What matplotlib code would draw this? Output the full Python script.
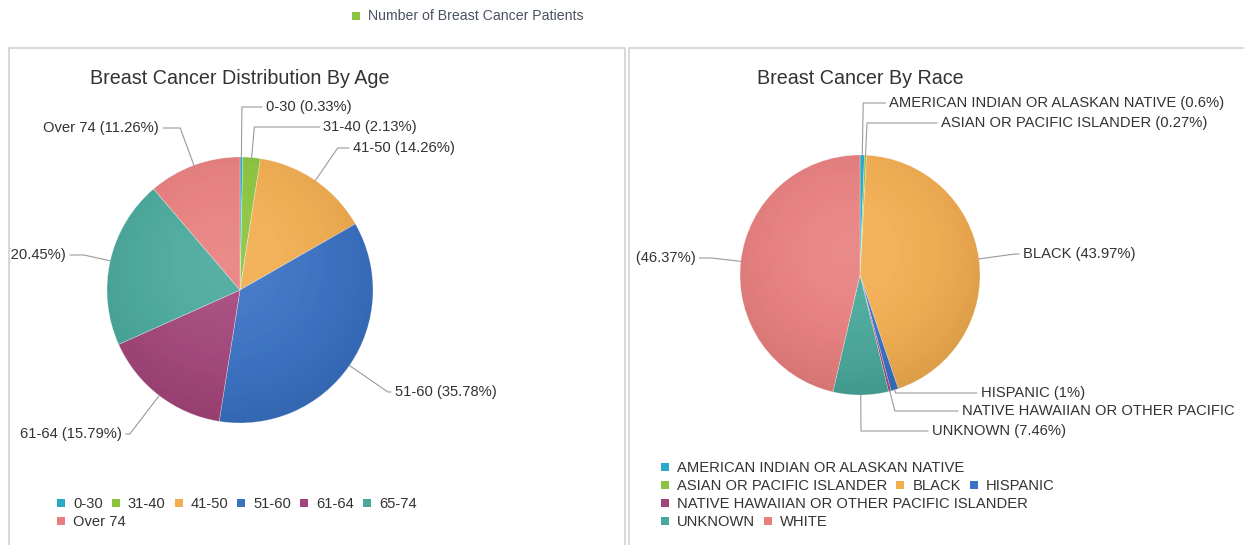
import numpy as np
import matplotlib
matplotlib.use('Agg')
import matplotlib.pyplot as plt
from matplotlib.patches import Rectangle, Circle
from matplotlib.transforms import Bbox, IdentityTransform, TransformedBbox

# ---------------- data ----------------
series_name = 'Number of Breast Cancer Patients'
age_title = 'Breast Cancer Distribution By Age'
race_title = 'Breast Cancer By Race'
age_labels = ['0-30', '31-40', '41-50', '51-60', '61-64', '65-74', 'Over 74']
age_pct = [0.33, 2.13, 14.26, 35.78, 15.79, 20.45, 11.26]
race_labels = ['AMERICAN INDIAN OR ALASKAN NATIVE', 'ASIAN OR PACIFIC ISLANDER', 'BLACK',
               'HISPANIC', 'NATIVE HAWAIIAN OR OTHER PACIFIC ISLANDER', 'UNKNOWN', 'WHITE']
race_pct = [0.6, 0.27, 43.97, 1, 0.33, 7.46, 46.37]
palette = ['#2aa8c8', '#8cc43f', '#f2ad50', '#3a71c3', '#a3457a', '#49a89b', '#e77f7e']

# ---------------- layout (pixels) ----------------
W, H = 1244, 545
FONT = ['Liberation Sans', 'DejaVu Sans']
TXT = '#333333'
LINEC = '#9a9a9a'
plt.rcParams['font.family'] = FONT

fig = plt.figure(figsize=(W / 100, H / 100), dpi=100)
fig.patch.set_facecolor('white')
ax = fig.add_axes([0, 0, 1, 1])

age_c, age_r = (240, 290), 133
race_c, race_r = (860, 275), 120


def draw_pie(vals, center, r):
    wedges, _ = ax.pie(vals, colors=palette, center=center, radius=r,
                       startangle=-90, counterclock=True,
                       wedgeprops=dict(edgecolor=(1, 1, 1, 0.5), linewidth=0.4))
    # subtle 3D-like shading
    n = 300
    g = np.linspace(-1, 1, n)
    X, Y = np.meshgrid(g, g)
    d = np.sqrt((X + 0.1) ** 2 + (Y + 0.2) ** 2)
    d = np.clip(d / 1.2, 0, 1)
    shade = np.zeros((n, n, 4))
    shade[..., 3] = 0.09 * d ** 3
    light = np.ones((n, n, 4))
    light[..., 3] = 0.10 * (1 - d) ** 1.2
    circ = Circle(center, r, transform=ax.transData)
    for img in (light, shade):
        im = ax.imshow(img, extent=(center[0] - r, center[0] + r, center[1] + r, center[1] - r),
                       zorder=3, interpolation='bilinear')
        im.set_clip_path(circ)
    return wedges


draw_pie(age_pct, age_c, age_r)
draw_pie(race_pct, race_c, race_r)

ax.set_xlim(0, W)
ax.set_ylim(H, 0)
ax.set_aspect('auto')
ax.axis('off')

# clip regions (display pixels, origin bottom-left)
clip_left = TransformedBbox(Bbox.from_extents(10, 0, 624, H - 49), IdentityTransform())
clip_right = TransformedBbox(Bbox.from_extents(632, 0, 1237, H - 49), IdentityTransform())

# panel borders
bc = '#d6d6d6'
ax.plot([9, 9, 625, 625], [H, 48, 48, H], color=bc, lw=1.3, solid_capstyle='butt', zorder=1)
ax.plot([629, 629, W + 5], [H, 48, 48], color=bc, lw=1.3, solid_capstyle='butt', zorder=1)

# top series legend
ax.add_patch(Rectangle((352, 12), 8, 8, color='#8cc43f', lw=0))
ax.text(368, 16.5, series_name, fontsize=10.2, color='#4a5262', va='center', ha='left')

# titles
ax.text(90, 78, age_title, fontsize=14.2, color=TXT, va='center', ha='left')
ax.text(757, 78, race_title, fontsize=14.2, color=TXT, va='center', ha='left')


def fmt(v):
    return f'{v:g}%'


def draw_labels(labels, vals, center, r, ys, hlens, clip):
    cx, cy = center
    cum = np.cumsum([0] + list(vals))
    tot = cum[-1]
    for i, (lab, v) in enumerate(zip(labels, vals)):
        mid = (cum[i] + v / 2) / tot * 2 * np.pi
        s, c = np.sin(mid), np.cos(mid)
        ex, ey = cx + r * s, cy - r * c
        ly = ys[i]
        t = (cy - ly) / c if abs(c) > 1e-6 else r
        bx = cx + t * s
        side = 1 if s >= 0 else -1
        hx = bx + side * hlens[i]
        ax.plot([ex, bx, hx], [ey, ly, ly], color=LINEC, lw=0.8, zorder=4)
        tt = ax.text(hx + side * 4, ly, f'{lab} ({fmt(v)})', fontsize=10.6, color=TXT,
                     va='center', ha='left' if side > 0 else 'right', zorder=5,
                     clip_on=True)
        tt.set_clip_box(clip)
        tt.set_clip_path(None)


age_label_y = [107, 127, 148, 392, 434, 255, 128]
age_hlen = [20, 65, 11, 3, 4, 14, 17]
draw_labels(age_labels, age_pct, age_c, age_r, age_label_y, age_hlen, clip_left)

race_label_y = [103, 123, 254, 393, 411, 431, 258]
race_hlen = [22, 70, 4, 81, 63, 67, 12]
draw_labels(race_labels, race_pct, race_c, race_r, race_label_y, race_hlen, clip_right)

# bottom legends (flow layout)
renderer = fig.canvas.get_renderer()


def flow_legend(x0, y0, rows, labels, dy=18):
    for ri, row in enumerate(rows):
        x = x0
        y = y0 + ri * dy
        for idx in row:
            ax.add_patch(Rectangle((x, y - 4), 8, 8, color=palette[idx], lw=0))
            t = ax.text(x + 16, y + 0.5, labels[idx], fontsize=10.6, color=TXT,
                        va='center', ha='left')
            w = t.get_window_extent(renderer).width
            x = x + 16 + w + 9


flow_legend(57, 503, [[0, 1, 2, 3, 4, 5], [6]], age_labels)
flow_legend(661, 467, [[0], [1, 2, 3], [4], [5, 6]], race_labels)

fig.savefig('out.png', dpi=100, facecolor='white')
